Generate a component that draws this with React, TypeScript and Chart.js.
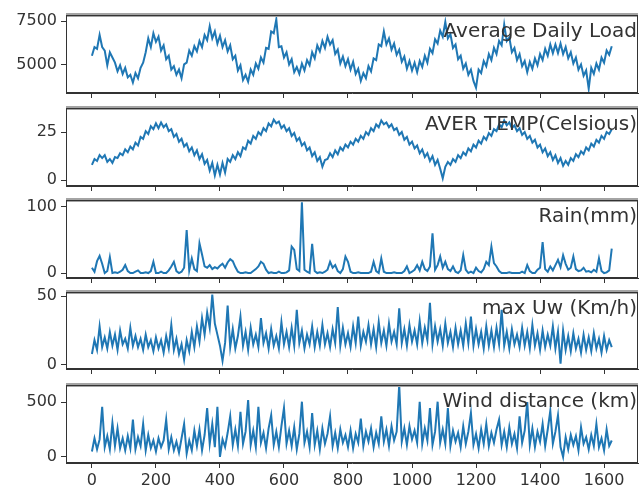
import React, { useEffect, useRef } from "react";
import { Chart, registerables } from "chart.js";

Chart.register(...registerables);

// ---- data (one sample every 8 days) ----
const STEP_DAYS = 8;
const X_TICKS = [0, 200, 400, 600, 800, 1000, 1200, 1400, 1600];

const TITLES = [
  "Average Daily Load",
  "AVER TEMP(Celsious)",
  "Rain(mm)",
  "max Uw (Km/h)",
  "Wind distance (km)",
];

const LOAD_TICKS = [5000, 7500];
const TEMP_TICKS = [0, 25];
const RAIN_TICKS = [0, 100];
const MAXUW_TICKS = [0, 50];
const WIND_TICKS = [0, 500];

const LOAD = [
  5500, 6000, 5900, 6700, 6000, 5800, 4950, 5700, 5400, 5100,
  4600, 4950, 4450, 4800, 4250, 4400, 3950, 4500, 4200, 4800,
  5100, 5700, 6500, 6000, 6800, 6300, 6600, 5800, 6100, 5300,
  5500, 4700, 4900, 4400, 4700, 4200, 5000, 5100, 5800, 5500,
  6050, 5750, 6350, 6000, 6700, 6400, 7200, 6500, 6900, 6200,
  6650, 6000, 6400, 5750, 6100, 5300, 5500, 4650, 4950, 4100,
  4400, 4000, 4700, 4400, 5050, 4750, 5400, 5100, 5950, 5900,
  6900, 6800, 7600, 6000, 6050, 5400, 5700, 5000, 5300, 4550,
  4850, 4450, 5050, 4650, 5250, 4950, 5700, 5350, 6100, 5750,
  6350, 5950, 6600, 6150, 6400, 5600, 5850, 5050, 5450, 4900,
  5300, 4700, 5150, 4450, 4750, 4050, 4500, 4200, 4900, 4600,
  5350, 5250, 6150, 6050, 6900, 6150, 6500, 5850, 6200, 5550,
  5850, 5150, 5450, 4750, 5200, 4650, 5100, 4550, 5200, 4850,
  5500, 5100, 5900, 5650, 6450, 6200, 6950, 6600, 7450, 6500,
  6750, 5950, 6150, 5300, 5500, 4750, 5050, 4400, 4700, 4050,
  3650, 4700, 4500, 5200, 4900, 5600, 5250, 5950, 5600, 6350,
  6100, 7300, 6350, 6550, 5700, 5950, 5250, 5600, 4900, 5200,
  4550, 5150, 4750, 5350, 4950, 5600, 5250, 5900, 5500, 6150,
  5650, 6150, 5650, 6200, 5600, 6000, 5350, 5700, 5050, 5400,
  4700, 5000, 4350, 4650, 3600, 4800, 4450, 5050, 4700, 5400,
  5100, 5800, 5550, 6050,
];

const TEMP = [
  8, 11, 10, 13, 11.5, 13, 9.5, 11, 9, 12,
  11.5, 14, 13, 16, 14.5, 17.5, 16, 19.5, 18, 22.5,
  21.5, 25.5, 24, 28, 26.5, 29.5, 27, 30, 27.5, 29,
  25.5, 26.5, 22.5, 24, 20, 21.5, 17.5, 19, 15, 17,
  13, 15.5, 11, 13.5, 8.5, 10.5, 5, 9, 2.5, 8,
  3, 9, 4, 11, 9.5, 13, 11, 14.5, 12.5, 17,
  16, 20.5, 19, 23, 21.5, 25, 23.5, 27, 25.5, 29.5,
  28, 31.5, 29.5, 30.5, 27, 28.5, 25.5, 27, 23, 24.5,
  20.5, 22, 18, 19.5, 15.5, 17, 12.5, 14.5, 10, 12,
  7, 10.5, 11, 14, 12, 15.5, 13.5, 17, 15.5, 18.5,
  17, 20, 18.5, 21.5, 20, 23, 21.5, 25, 23.5, 27,
  25.5, 29, 27.5, 31, 29, 30, 27.5, 29, 26, 27,
  23.5, 25, 21, 22.5, 18.5, 20, 16.5, 18, 14, 16,
  12, 14, 10, 12.5, 8, 10.5, 6, 1, 7, 9.5,
  8, 11, 9.5, 13, 11.5, 14.5, 13, 16.5, 15, 18.5,
  17, 20.5, 19, 22.5, 21, 24.5, 23, 26.5, 25.5, 29,
  27.5, 31, 28.5, 30, 27, 28.5, 25.5, 27, 23.5, 25,
  21.5, 23, 19.5, 21, 17, 18.5, 14.5, 16.5, 12.5, 14.5,
  10.5, 13, 9, 11.5, 7.5, 10, 8, 11.5, 10, 13.5,
  12, 15, 13.5, 17, 15.5, 19, 17.5, 21, 19.5, 23,
  21.5, 25, 24, 26.5,
];

const RAIN = [
  8, 2, 18, 26, 14, 0, 3, 24, 0, 1,
  0, 2, 5, 12, 3, 0, 0, 2, 4, 0,
  0, 1, 0, 3, 17, 0, 0, 2, 0, 0,
  4, 10, 17, 3, 0, 2, 8, 65, 4, 22,
  6, 3, 45, 28, 10, 8, 12, 6, 9, 7,
  11, 14, 8, 16, 21, 18, 9, 2, 0, 0,
  1, 0, 0, 3, 6, 10, 17, 14, 5, 0,
  1, 0, 0, 2, 0, 0, 1, 4, 40, 35,
  6, 3, 107, 5, 2, 0, 44, 3, 0, 1,
  0, 2, 5, 17, 8, 12, 3, 0, 6, 25,
  17, 2, 0, 0, 1, 0, 0, 0, 0, 2,
  17, 3, 0, 22, 2, 0, 0, 0, 1, 0,
  0, 0, 3, 10, 0, 2, 5, 12, 4, 17,
  6, 3, 10, 60, 5, 12, 25, 8, 17, 6,
  3, 10, 2, 0, 4, 27, 5, 0, 2, 0,
  8, 3, 1, 6, 17, 12, 40, 15, 10, 3,
  0, 0, 0, 1, 0, 0, 0, 0, 2, 0,
  12, 3, 0, 0, 5, 8, 47, 6, 2, 10,
  4, 12, 20, 9, 27, 14, 5, 8, 25, 6,
  3, 4, 8, 2, 3, 1, 5, 2, 22, 3,
  0, 1, 4, 37,
];

const MAXUW = [
  8, 18, 11, 28, 13, 20, 12, 24, 14, 22,
  11, 25, 15, 19, 12, 27, 14, 21, 13, 19,
  11, 22, 13, 18, 10, 20, 12, 18, 9, 21,
  12, 29, 11, 19, 8, 15, 4, 18, 10, 24,
  13, 28, 17, 34, 22, 38, 27, 51, 30, 22,
  14, 3, 16, 43, 13, 26, 12, 21, 35, 14,
  24, 11, 27, 15, 22, 13, 34, 16, 23, 12,
  26, 14, 21, 12, 31, 15, 24, 13, 27, 14,
  40, 16, 25, 12, 22, 15, 28, 13, 24, 14,
  29, 15, 23, 13, 26, 16, 42, 14, 27, 15,
  23, 13, 28, 16, 35, 14, 24, 17, 29, 15,
  26, 13, 31, 16, 25, 14, 30, 17, 24, 15,
  41, 16, 26, 14, 29, 17, 25, 15, 32, 16,
  27, 18, 45, 15, 28, 17, 26, 14, 30, 16,
  24, 13, 27, 15, 25, 14, 30, 16, 35, 14,
  26, 15, 24, 12, 28, 14, 25, 13, 27, 15,
  40, 14, 24, 12, 26, 15, 22, 13, 27, 14,
  24, 12, 29, 14, 23, 11, 25, 13, 22, 14,
  28, 12, 24, 1, 25, 11, 21, 10, 23, 12,
  19, 9, 22, 11, 20, 10, 23, 12, 19, 9,
  21, 11, 18, 13,
];

const WIND = [
  50, 170, 70, 160, 457, 90, 190, 70, 310, 100,
  260, 80, 170, 60, 190, 80, 340, 70, 180, 100,
  300, 60, 200, 80, 150, 50, 170, 90, 150, 340,
  70, 180, 60, 140, 40, 170, 300, 30, 150, 60,
  240, 100, 250, 60, 200, 445, 120, 300, 90, 457,
  0, 160, 90, 220, 370, 110, 250, 100, 410, 120,
  230, 518, 110, 240, 90, 457, 130, 220, 80, 260,
  380, 110, 230, 90, 280, 445, 120, 240, 100, 270,
  70, 210, 503, 130, 230, 90, 400, 110, 240, 70,
  260, 120, 210, 370, 100, 220, 80, 250, 130, 200,
  90, 240, 80, 210, 130, 350, 100, 230, 140, 260,
  90, 220, 120, 370, 140, 250, 100, 280, 150, 230,
  655, 140, 260, 110, 280, 160, 240, 130, 503, 120,
  260, 150, 445, 110, 230, 503, 130, 250, 120, 445,
  100, 240, 140, 220, 90, 280, 120, 230, 400, 110,
  210, 80, 250, 120, 300, 100, 220, 130, 250, 340,
  110, 230, 90, 270, 120, 210, 80, 370, 130, 240,
  500, 110, 260, 90, 230, 140, 300, 100, 250, 420,
  120, 230, 380, 90, 0, 180, 70, 200, 110, 190,
  60, 270, 120, 180, 70, 200, 100, 300, 90, 170,
  60, 250, 100, 150,
];

// ---- layout / style ----
const W = 639;
const PAD_TOP = 12;
const LEFT_AXIS_W = 66;
const X_MIN = -81;
const X_MAX = 1706;
const LINE_COLOR = "#1f77b4";
const AXIS_COLOR = "#333333";
const FONT = '"DejaVu Sans", sans-serif';

const PANELS = [
  { title: TITLES[0], values: LOAD, yTicks: LOAD_TICKS, yMin: 3350, yMax: 7850, top: 15, height: 78 },
  { title: TITLES[1], values: TEMP, yTicks: TEMP_TICKS, yMin: -3, yMax: 37.5, top: 108, height: 78 },
  { title: TITLES[2], values: RAIN, yTicks: RAIN_TICKS, yMin: -7.5, yMax: 110.5, top: 200, height: 78 },
  { title: TITLES[3], values: MAXUW, yTicks: MAXUW_TICKS, yMin: -2.9, yMax: 52.9, top: 292, height: 77 },
  { title: TITLES[4], values: WIND, yTicks: WIND_TICKS, yMin: -55, yMax: 655, top: 385, height: 78 },
];

const decorPlugin = {
  id: "panelDecor",
  afterDraw(chart: any, _args: any, opts: any) {
    const { ctx, chartArea } = chart;
    const { left, top, right, bottom } = chartArea;
    ctx.save();
    // top band (grey)
    ctx.fillStyle = "#a4a4a4";
    ctx.fillRect(left, top - 2, right - left, 4);
    // frame
    ctx.strokeStyle = AXIS_COLOR;
    ctx.lineWidth = 1;
    ctx.strokeRect(left + 0.5, top + 0.5, right - left - 1, bottom - top - 1);
    // title at mid-height, right aligned (matplotlib title y=0.5, loc='right')
    ctx.font = `20px ${FONT}`;
    ctx.fillStyle = "#333333";
    ctx.textAlign = "right";
    ctx.textBaseline = "alphabetic";
    ctx.fillText(opts.title, right - 1, (top + bottom) / 2 - 17);
    ctx.restore();
  },
};

function Panel({ idx }: { idx: number }) {
  const ref = useRef<HTMLCanvasElement | null>(null);
  const p = PANELS[idx];
  const isLast = idx === PANELS.length - 1;
  const xAxisH = isLast ? 36 : 6;
  const canvasH = PAD_TOP + p.height + xAxisH;

  useEffect(() => {
    if (!ref.current) return;
    const pts = p.values.map((v, i) => ({ x: i * STEP_DAYS, y: v }));
    const chart = new Chart(ref.current, {
      type: "line",
      data: {
        datasets: [
          {
            data: pts,
            borderColor: LINE_COLOR,
            borderWidth: 2,
            pointRadius: 0,
            fill: false,
            tension: 0,
          },
        ],
      },
      options: {
        animation: false,
        responsive: false,
        events: [],
        layout: { padding: { top: PAD_TOP, left: 0, right: 1, bottom: 0 } },
        plugins: {
          legend: { display: false },
          tooltip: { enabled: false },
          title: { display: false },
          // @ts-ignore
          panelDecor: { title: p.title },
        },
        scales: {
          x: {
            type: "linear",
            min: X_MIN,
            max: X_MAX,
            afterBuildTicks: (s: any) => {
              s.ticks = X_TICKS.map((v) => ({ value: v }));
            },
            afterFit: (s: any) => {
              s.height = xAxisH;
              s.paddingLeft = 0;
              s.paddingRight = 0;
            },
            grid: { drawOnChartArea: false, drawTicks: true, tickLength: 5, color: AXIS_COLOR },
            border: { display: true, color: AXIS_COLOR },
            ticks: {
              display: isLast,
              autoSkip: false,
              maxRotation: 0,
              padding: 3,
              color: "#333333",
              font: { family: FONT, size: 16 },
              callback: (v: any) => String(v),
            },
          },
          y: {
            type: "linear",
            min: p.yMin,
            max: p.yMax,
            afterBuildTicks: (s: any) => {
              s.ticks = p.yTicks.map((v) => ({ value: v }));
            },
            afterFit: (s: any) => {
              s.width = LEFT_AXIS_W;
              s.paddingTop = 0;
              s.paddingBottom = 0;
            },
            grid: { drawOnChartArea: false, drawTicks: true, tickLength: 5, color: AXIS_COLOR },
            border: { display: true, color: AXIS_COLOR },
            ticks: {
              padding: 4,
              color: "#333333",
              font: { family: FONT, size: 16 },
              callback: (v: any) => String(v),
            },
          },
        },
      },
      plugins: [decorPlugin],
    } as any);
    return () => chart.destroy();
  }, []);

  return (
    <canvas
      ref={ref}
      width={W}
      height={canvasH}
      style={{ position: "absolute", left: 0, top: p.top - PAD_TOP, width: W, height: canvasH }}
    />
  );
}

export default function App() {
  return (
    <div
      style={{
        position: "fixed",
        left: 0,
        top: 0,
        width: W,
        height: 495,
        background: "#ffffff",
        overflow: "hidden",
      }}
    >
      {PANELS.map((_, i) => (
        <Panel key={i} idx={i} />
      ))}
    </div>
  );
}
